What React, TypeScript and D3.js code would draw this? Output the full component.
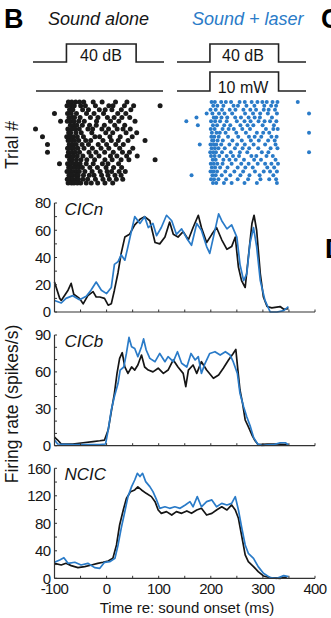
import React from 'react'
import * as d3 from 'd3'

// PSTH traces, [time (ms), firing rate (spikes/s)]
const cicnSound: [number, number][] = [
  [-100, 22], [-90, 10], [-87, 8.5], [-74, 16], [-68, 21], [-63, 13], [-52, 10], [-45, 6], [-36, 12],
  [-26, 15], [-20, 11], [-13, 11], [-4, 10], [3, 5], [9, 6], [15, 16], [22, 29], [28, 43], [35, 55],
  [44, 57], [54, 64], [64, 68], [73, 70], [83, 67], [93, 51], [102, 50], [112, 55], [121, 66],
  [128, 57], [137, 55], [147, 59], [157, 53], [166, 62], [176, 71], [182, 62], [192, 51], [202, 57],
  [211, 62], [221, 53], [231, 46], [240, 48], [247, 55], [253, 33], [259, 23], [266, 18], [272, 40],
  [279, 65], [283, 71], [288, 60], [295, 28], [301, 11], [308, 4], [317, 3], [333, 4], [340, 2], [349, 2.5],
]
const cicnLaser: [number, number][] = [
  [-100, 8.5], [-87, 6.6], [-78, 10], [-65, 12], [-52, 9], [-39, 11.5], [-30, 16], [-20, 22], [-10, 16],
  [0, 13.5], [9, 18], [15, 35], [22, 37], [28, 42], [35, 38], [41, 48], [48, 60], [54, 70], [64, 65],
  [73, 70], [80, 62], [89, 65], [96, 56], [105, 62], [115, 71], [125, 67], [134, 57], [144, 61],
  [154, 54], [163, 49], [173, 65], [182, 60], [192, 48], [198, 43], [205, 55], [215, 72], [221, 67],
  [231, 61], [240, 64], [250, 55], [256, 35], [263, 23], [269, 28], [275, 50], [282, 62], [288, 48],
  [295, 23], [304, 8.5], [314, 0], [327, 0], [340, 1], [349, 4],
]
const cicbSound: [number, number][] = [
  [-100, 7], [-94, 4.6], [-87, 1.4], [-65, 1.4], [-45, 2.4], [-26, 3.3], [-13, 4], [-4, 4.6], [3, 12.7],
  [9, 27.7], [15, 42.6], [20, 58.8], [25, 71], [30, 75.6], [35, 64], [41, 58.8], [48, 64], [54, 61.5],
  [60, 65.6], [67, 73.7], [73, 64], [80, 61.5], [89, 60], [99, 63], [109, 58.8], [118, 61.5],
  [128, 69.7], [137, 64], [147, 58.8], [152, 48], [157, 61.5], [166, 65.6], [173, 58.8], [182, 68.3],
  [192, 61.5], [205, 54.8], [215, 57.5], [224, 63], [234, 69.7], [243, 75], [248, 78.3], [252, 61.5],
  [256, 45.3], [261, 34.4], [266, 20.9], [272, 15.5], [279, 8.7], [285, 4], [291, 0.8], [308, 1.4],
  [327, 1.4], [346, 0.8],
]
const cicbLaser: [number, number][] = [
  [-100, 4.6], [-94, 1.4], [-65, 0.8], [-39, 0.8], [-13, 0.8], [-2, 1.4], [3, 12.7], [9, 29], [15, 40],
  [22, 50.7], [26, 61.5], [33, 64], [38, 75], [43, 88], [48, 80.5], [54, 79], [60, 72.4], [67, 80.5],
  [71, 86.8], [76, 77.8], [83, 71], [93, 68.3], [102, 75], [112, 68.3], [118, 72.4], [128, 68.3],
  [136, 76.4], [144, 67], [154, 64], [162, 75], [170, 69.7], [176, 72.4], [182, 58.8], [189, 67],
  [198, 75], [208, 76.4], [218, 73.7], [228, 76.4], [237, 73.7], [243, 68.3], [251, 58.8], [256, 42.6],
  [263, 31.7], [269, 23.6], [276, 15.5], [282, 6.8], [290, 1.4], [298, 0.3], [320, 0.8], [333, 2.4],
  [343, 2.4], [349, 0.8],
]
const ncicSound: [number, number][] = [
  [-100, 21.8], [-87, 19.4], [-78, 21.8], [-68, 18.4], [-55, 15.5], [-42, 17], [-29, 19.4], [-17, 21.8],
  [-7, 23.3], [3, 25.2], [12, 29], [19, 48.5], [25, 77.6], [32, 99.4], [38, 116], [46, 126], [54, 128.5],
  [60, 133], [67, 128.5], [76, 123.6], [86, 118.8], [93, 111.5], [99, 99.4], [105, 94.5], [115, 97],
  [125, 92], [134, 97], [144, 94.5], [154, 98], [163, 94.5], [173, 99.4], [182, 101.8], [192, 92],
  [202, 94.5], [211, 99.4], [221, 104], [231, 99.4], [240, 106.7], [247, 99.4], [253, 87.3], [259, 63],
  [266, 34], [272, 24.2], [282, 17], [291, 9.7], [301, 3.4], [314, 1], [333, 0], [346, 2],
]
const ncicLaser: [number, number][] = [
  [-100, 23.3], [-90, 26.7], [-82, 30], [-74, 21.8], [-61, 23.3], [-49, 19.4], [-36, 21.8], [-23, 15.5],
  [-13, 14.5], [-4, 23.3], [6, 24.2], [16, 29], [22, 48.5], [28, 72.7], [35, 97], [41, 118.8],
  [48, 133.3], [54, 143], [59, 152.7], [64, 148], [69, 152.7], [75, 140.6], [83, 133.3], [89, 126],
  [96, 114], [102, 101.8], [112, 104], [121, 101.8], [131, 104], [141, 101.8], [151, 106.7], [160, 111.5],
  [166, 104], [174, 118.8], [182, 104], [192, 111.5], [202, 114], [211, 104], [221, 109], [231, 106.7],
  [240, 109], [247, 118.8], [253, 99.4], [259, 75], [266, 48.5], [272, 36.4], [282, 29], [291, 17],
  [301, 7.3], [314, 1], [327, 0], [340, 3.9], [349, 2.4],
]

// spike rasters, one array of spike times (ms) per trial
const rasterSound: number[][] = [
  [7, 19, 33, 47, 62, 96, 128, 176, 217],
  [2, 16, 28, 51, 68, 104, 152, 167, 208, 241, 336],
  [11, 23, 58, 79, 118, 139, 163, 197, 231],
  [-43, 4, 17, 36, 72, 99, 133, 184, 213],
  [9, 21, 29, 49, 86, 113, 147, 171, 199, 227],
  [-21, 3, 13, 27, 44, 64, 108, 158, 188, 246],
  [14, 26, 37, 57, 83, 107, 136, 173, 209],
  [-111, 5, 19, 31, 46, 77, 94, 127, 151, 182, 203, 229],
  [8, 15, 34, 53, 91, 141, 166, 214, 252],
  [-86, 1, 12, 24, 39, 61, 102, 119, 156, 193, 236],
  [6, 18, 29, 44, 69, 87, 131, 161, 186, 221, 282],
  [-68, 10, 22, 35, 56, 79, 114, 144, 177, 204],
  [4, 16, 26, 41, 63, 93, 124, 152, 191, 238],
  [-68, 7, 20, 32, 47, 81, 106, 137, 168, 201, 226],
  [3, 12, 25, 39, 59, 88, 117, 158, 181, 216, 254],
  [11, 21, 36, 52, 73, 101, 138, 164, 196, 224, 318],
  [-25, 4, 14, 27, 38, 49, 71, 96, 129, 149, 187],
  [8, 17, 31, 43, 57, 84, 111, 142, 169, 198],
  [2, 15, 24, 36, 46, 66, 92, 121, 146, 162, 189, 211],
  [9, 20, 33, 42, 61, 82, 99, 126, 149, 174, 196],
  [3, 13, 22, 34, 43, 59, 76, 104, 131, 154, 179, 202],
  [6, 18, 27, 39, 51, 71, 89, 112, 138, 166],
]
const rasterLaser: number[][] = [
  [6, 18, 41, 58, 77, 108, 127, 152, 173, 191, 207, 228, 246, 320],
  [12, 27, 49, 86, 102, 133, 162, 198, 223, 241],
  [2, 21, 44, 72, 93, 122, 147, 168, 196, 214, 237],
  [-12, 9, 33, 53, 81, 128, 157, 183, 211, 244, 361],
  [-49, 14, 23, 42, 63, 92, 113, 141, 163, 182, 226],
  [-86, 4, 19, 37, 61, 98, 126, 148, 177, 199, 219, 242],
  [-44, 11, 26, 52, 74, 111, 137, 158, 192, 233],
  [3, 17, 46, 68, 87, 118, 146, 204, 231, 247],
  [7, 24, 36, 57, 96, 131, 171, 194, 216, 361],
  [5, 16, 32, 66, 103, 142, 163, 187, 224, 243],
  [8, 13, 28, 47, 82, 116, 149, 178, 212, 236],
  [-37, 2, 14, 23, 41, 71, 99, 127, 159, 201, 239],
  [6, 18, 31, 54, 91, 119, 143, 176, 221, 246],
  [1, 12, 22, 44, 76, 109, 136, 189, 213, 361],
  [4, 17, 34, 61, 84, 106, 151, 169, 206, 229],
  [10, 21, 49, 71, 94, 124, 161, 186, 239],
  [3, 14, 27, 46, 79, 114, 141, 174, 201, 224, 248],
  [7, 19, 37, 64, 101, 129, 156, 209, 234],
  [2, 13, 26, 56, 89, 121, 164, 196, 219, 244],
  [-67, 9, 21, 43, 74, 111, 144, 181, 231],
  [4, 15, 31, 59, 101, 139, 184, 216, 241],
  [11, 23, 51, 79, 126, 171, 244],
]

// stimulus timing (ms) for the step traces
const soundOn: [number, number][] = [[-120, 0], [0, 0], [0, 1], [250, 1], [250, 0], [350, 0]]
const laserOff: [number, number][] = [[-120, 0], [350, 0]]

const panelNames = ['CICn', 'CICb', 'NCIC']
const panelMax = [80, 90, 160]
const panelLabelTicks = [[0, 20, 40, 60, 80], [0, 30, 60, 90], [0, 40, 80, 120, 160]]
const panelMinorStep = [10, 10, 20]
const timeTicks = [-100, 0, 100, 200, 300, 400]
const timeMinor = [-100, -50, 0, 50, 100, 150, 200, 250, 300, 350, 400]

const BLUE = '#2a7bc8'
const INK = '#151515'
const AXIS = '#333'
const FONT = '"Liberation Sans", Arial, Helvetica, sans-serif'

const panelBox = [
  { top: 203, bottom: 312 },
  { top: 335, bottom: 445.7 },
  { top: 468.3, bottom: 578.3 },
]

const x = d3.scaleLinear().domain([-100, 400]).range([54.5, 315])

const Panel = ({ i, sound, laser }: { i: number; sound: [number, number][]; laser: [number, number][] }) => {
  const { top, bottom } = panelBox[i]
  const y = d3.scaleLinear().domain([0, panelMax[i]]).range([bottom, top])
  const line = d3
    .line<[number, number]>()
    .x(d => x(d[0]))
    .y(d => y(d[1]))
  const minor = d3.range(0, panelMax[i] + 0.01, panelMinorStep[i])
  const isLast = i === 2
  return (
    <g>
      <path d={line(sound) || ''} fill="none" stroke={INK} strokeWidth={1.7} strokeLinejoin="round" />
      <path d={line(laser) || ''} fill="none" stroke={BLUE} strokeWidth={1.7} strokeLinejoin="round" />
      <line x1={x(-100)} x2={x(-100)} y1={top} y2={bottom} stroke={AXIS} strokeWidth={1.2} />
      <line x1={x(-100)} x2={x(400)} y1={bottom} y2={bottom} stroke={AXIS} strokeWidth={1.2} />
      {minor.map(v => (
        <line key={v} x1={x(-100)} x2={x(-100) + 2.5} y1={y(v)} y2={y(v)} stroke={AXIS} strokeWidth={1} />
      ))}
      {timeMinor.map(t => (
        <line key={t} x1={x(t)} x2={x(t)} y1={bottom} y2={bottom - 2.5} stroke={AXIS} strokeWidth={1} />
      ))}
      {panelLabelTicks[i].map(v => (
        <text
          key={v}
          x={x(-100) - 4}
          y={y(v) + 5.3}
          textAnchor="end"
          fontSize={15}
          letterSpacing={-0.6}
          fill={INK}
        >
          {v}
        </text>
      ))}
      {isLast &&
        timeTicks.map(t => (
          <text key={t} x={x(t)} y={bottom + 15.5} textAnchor="middle" fontSize={15} letterSpacing={-0.6} fill={INK}>
            {t}
          </text>
        ))}
      <text x={x(-100) + 10} y={top + 11.5} fontSize={17} fontStyle="italic" fill={INK}>
        {panelNames[i]}
      </text>
    </g>
  )
}

const Raster = ({
  trials,
  x0,
  x1,
  color,
  r,
}: {
  trials: number[][]
  x0: number
  x1: number
  color: string
  r: number
}) => {
  const sx = d3.scaleLinear().domain([-120, 350]).range([x0, x1])
  const sy = d3.scaleLinear().domain([0, trials.length - 1]).range([102, 183])
  return (
    <g>
      {trials.map((spikes, ti) =>
        spikes.map((t, si) => <circle key={`${ti}-${si}`} cx={sx(t)} cy={sy(ti)} r={r} fill={color} />),
      )}
    </g>
  )
}

const StimTrace = ({ data, x0, x1, low, high }: { data: [number, number][]; x0: number; x1: number; low: number; high: number }) => {
  const sx = d3.scaleLinear().domain([-120, 350]).range([x0, x1])
  const sy = d3.scaleLinear().domain([0, 1]).range([low, high])
  const line = d3
    .line<[number, number]>()
    .x(d => sx(d[0]))
    .y(d => sy(d[1]))
  return <path d={line(data) || ''} fill="none" stroke="#222" strokeWidth={1.6} />
}

export default function App() {
  return (
    <svg
      width={331}
      height={618}
      style={{ position: 'absolute', left: 0, top: 0, background: '#fff' }}
      fontFamily={FONT}
    >
      <text x={4} y={28} fontSize={27} fontWeight="bold" fill="#000">
        B
      </text>
      <text x={321} y={28} fontSize={27} fontWeight="bold" fill="#000">
        C
      </text>
      <text x={325} y={258} fontSize={27} fontWeight="bold" fill="#000">
        D
      </text>
      <text x={48} y={25} fontSize={18} fontStyle="italic" fill={INK}>
        Sound alone
      </text>
      <text x={192} y={25} fontSize={18} fontStyle="italic" fill={BLUE}>
        Sound + laser
      </text>

      <StimTrace data={soundOn} x0={33} x1={164} low={62} high={44} />
      <StimTrace data={laserOff} x0={36} x1={163} low={91} high={72} />
      <StimTrace data={soundOn} x0={177} x1={306} low={62} high={44} />
      <StimTrace data={soundOn} x0={177} x1={306} low={91} high={72} />
      <text x={101} y={61} textAnchor="middle" fontSize={16} fill={INK}>
        40 dB
      </text>
      <text x={243} y={61} textAnchor="middle" fontSize={16} fill={INK}>
        40 dB
      </text>
      <text x={243} y={93} textAnchor="middle" fontSize={16} fill={INK}>
        10 mW
      </text>

      <Raster trials={rasterSound} x0={33} x1={164} color="#1a1a1a" r={2.5} />
      <Raster trials={rasterLaser} x0={177} x1={306} color={BLUE} r={2} />

      <text transform="translate(18,145) rotate(-90)" textAnchor="middle" fontSize={17.5} fill={INK}>
        Trial #
      </text>
      <text transform="translate(18,404) rotate(-90)" textAnchor="middle" fontSize={17.5} fill={INK}>
        Firing rate (spikes/s)
      </text>

      <Panel i={0} sound={cicnSound} laser={cicnLaser} />
      <Panel i={1} sound={cicbSound} laser={cicbLaser} />
      <Panel i={2} sound={ncicSound} laser={ncicLaser} />

      <text x={187} y={613} textAnchor="middle" fontSize={15} fill={INK}>
        Time re: sound onset (ms)
      </text>
    </svg>
  )
}
